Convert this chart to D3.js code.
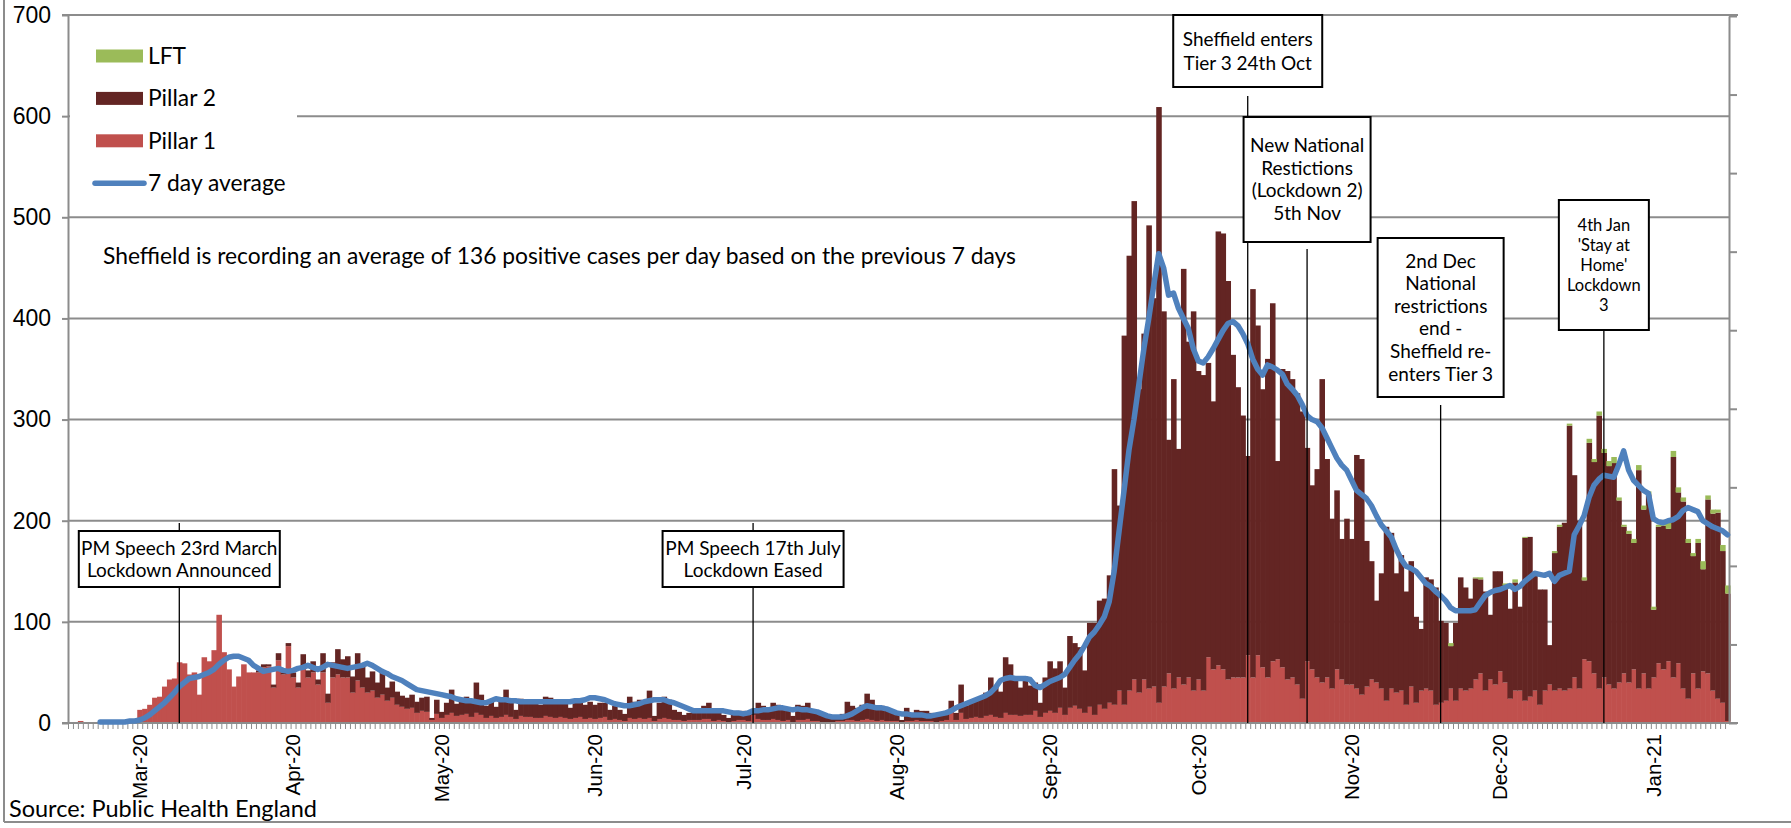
<!DOCTYPE html>
<html lang="en">
<head>
<meta charset="UTF-8">
<title>Sheffield daily positive cases</title>
<script src="https://cdnjs.cloudflare.com/ajax/libs/d3/7.8.5/d3.min.js"></script>
<style>
    body { margin: 0; background: #fff; }
    svg { display: block; font-family: Lato, "Noto Sans", sans-serif; }
    .grid line { stroke: #8c8c8c; stroke-width: 2; }
    .axis path, .axis line { stroke: #8c8c8c; stroke-width: 2; }
    .axis text { fill: #000; }
    .day-tick { stroke: #8c8c8c; stroke-width: 1; }
    .note-line { stroke: #000; stroke-width: 1.3; }
    .note-box { fill: #fff; stroke: #000; stroke-width: 2; }
</style>
</head>
<body>
<svg id="chart" width="1791" height="828"></svg>
<script>
// daily series start on this date, one value per day
const startDate = "2020-02-16";

// top of each day's stacked bar (Pillar 1 + Pillar 2 + LFT)
const dailyTotal = [
    // Feb 16-29
    0,1,2,0,0,1,0,0,1,2,1,0,1,2,
    // Mar
    13,14,18,25,26,36,43,44,60,59,48,50,28,65,61,72,107,70,53,36,46,58,50,50,52,58,58,38,69,50,79,
    // Apr
    50,40,68,52,61,43,69,29,60,73,63,66,46,69,56,45,51,40,51,35,41,31,27,25,28,21,25,26,5,23,
    // May
    11,20,33,19,23,26,20,40,28,17,21,16,23,33,20,13,24,20,23,20,18,26,25,20,23,22,15,20,24,18,21,
    // Jun
    18,20,20,13,17,13,9,26,21,23,19,32,7,20,26,23,13,11,8,10,12,14,17,20,10,12,8,5,10,12,
    // Jul
    12,8,14,20,17,13,20,18,13,15,7,18,17,20,13,10,8,5,6,7,9,21,17,15,18,29,23,15,17,15,12,
    // Aug
    10,3,15,10,13,12,12,10,8,10,12,22,10,38,17,21,23,26,30,45,36,31,65,58,43,35,46,37,40,20,45,
    // Sep
    61,54,61,35,86,79,75,52,99,99,121,123,146,251,215,383,462,516,330,385,492,420,609,407,280,340,271,449,377,407,
    // Oct
    348,344,356,318,486,484,437,364,332,304,264,429,393,330,360,415,259,350,348,340,326,308,272,235,251,340,261,202,230,182,202,
    // Nov
    182,265,261,180,160,121,148,194,188,148,166,130,160,105,93,144,142,134,101,99,79,99,144,134,123,144,144,130,107,150,
    // Dec
    150,138,113,142,115,184,184,146,132,132,77,170,196,198,296,245,200,144,281,261,308,271,259,263,223,196,190,182,255,215,229,
    // Jan 1-16
    115,196,198,200,269,233,223,182,168,182,160,225,211,211,176,136
];

const pillar1 = [
    // Feb 16-29
    0,1,2,0,0,1,0,0,1,2,1,0,1,2,
    // Mar
    13,14,18,25,26,36,43,44,60,59,48,50,28,65,61,72,107,70,53,36,46,58,50,50,50,55,56,35,62,48,76,
    // Apr
    45,35,55,45,50,38,50,20,45,48,45,45,30,42,35,30,32,25,28,22,25,18,16,14,15,10,12,11,3,9,
    // May
    5,8,10,7,8,9,6,10,8,5,7,5,6,8,6,4,7,6,6,5,5,7,6,5,6,5,4,5,6,4,5,
    // Jun
    4,5,6,3,4,3,2,5,4,5,4,5,2,4,5,4,3,3,2,3,3,3,4,4,2,3,2,1,2,3,
    // Jul
    3,2,8,4,3,3,4,3,2,3,1,3,3,4,2,2,1,1,1,2,2,3,3,2,3,4,3,2,3,2,2,
    // Aug
    2,1,2,2,3,2,2,2,1,2,3,12,3,10,4,5,6,5,7,8,6,5,10,8,8,7,8,8,12,6,10,
    // Sep
    12,10,15,8,15,17,14,10,16,8,18,14,20,18,32,18,32,43,30,43,34,36,20,36,49,34,45,38,45,32,
    // Oct
    43,32,65,53,57,53,43,45,45,45,67,45,67,55,45,61,63,55,43,45,38,24,61,53,45,40,45,34,53,43,38,
    // Nov
    38,34,28,36,43,40,34,22,34,30,32,18,36,20,32,34,32,18,20,22,34,22,34,32,34,43,49,32,43,38,
    // Dec
    51,40,24,32,32,22,26,32,18,32,38,32,34,32,34,45,34,63,61,49,34,45,38,34,40,49,40,53,34,49,34,
    // Jan 1-16
    45,59,53,61,45,59,34,24,49,34,51,49,32,24,20,2
];

// lateral flow results only appear from late November
const lftStart = "2020-11-21";
const lft = [
    3,0,0,0,0,1,2,0,0,0, 0,2,0,3,0,1,0,0,0,0,
    0,2,2,0,2,0,0,3,4,3, 4,4,5,6,3,2,3,4,5,4,
    3,3,2,3,8,6,5,4,4,3, 4,8,4,4,3,6,8
];

// 7 day average, first value on the 7th day
const avgStart = "2020-02-22";
const avg7 = [
    1,1,1,1,1,1,2,
    2,3,5,8,12,16,20,25,30,36,40,44,45,46,48,50,53,58,62,65,66,66,64,62,57,54,51,52,53,54,52,51,
    52,54,55,57,55,53,55,58,57,56,55,54,55,56,57,59,57,54,51,49,46,44,42,39,36,33,32,31,30,29,
    28,27,26,24,23,22,22,21,20,20,22,24,23,23,22,22,21,21,21,21,21,21,21,21,21,21,21,22,22,23,25,
    25,24,23,21,19,18,17,17,18,19,21,22,23,23,23,21,20,18,16,14,12,12,12,12,12,12,12,11,10,10,
    9,10,12,12,13,13,14,15,15,14,13,14,13,13,12,11,9,7,6,6,6,7,9,12,15,17,16,15,15,14,12,
    10,9,9,8,8,8,7,7,8,9,10,12,15,17,19,21,23,25,27,30,35,42,44,45,44,44,44,43,37,35,38,
    41,43,45,48,55,62,68,76,85,90,97,105,120,150,190,230,270,300,335,370,400,433,464,450,423,425,410,400,390,370,
    358,356,362,370,379,388,395,397,393,385,375,360,350,344,354,352,349,345,335,330,324,315,304,300,298,292,282,272,262,255,250,
    240,230,226,222,215,205,196,190,184,172,162,155,153,150,144,138,135,130,126,121,114,111,111,111,111,112,119,126,129,131,
    132,134,136,132,135,140,144,148,147,146,148,140,146,148,150,186,195,205,223,235,241,245,244,243,255,269,250,240,235,230,227,
    202,199,198,200,201,204,210,213,211,209,200,197,194,192,190,186
];

const yTicks = [0, 100, 200, 300, 400, 500, 600, 700];

const legendItems = [
    { label: "LFT", key: "lft" },
    { label: "Pillar 2", key: "pillar2" },
    { label: "Pillar 1", key: "pillar1" },
    { label: "7 day average", key: "avg" }
];

const annotations = [
    { date: "2020-03-09", text: ["PM Speech 23rd March", "Lockdown Announced"] },
    { date: "2020-07-03", text: ["PM Speech 17th July", "Lockdown Eased"] },
    { date: "2020-10-11", text: ["Sheffield enters", "Tier 3 24th Oct"] },
    { date: "2020-10-23", text: ["New National", "Restictions", "(Lockdown 2)", "5th Nov"] },
    { date: "2020-11-19", text: ["2nd Dec", "National", "restrictions", "end -", "Sheffield re-", "enters Tier 3"] },
    { date: "2020-12-22", text: ["4th Jan", "'Stay at", "Home'", "Lockdown", "3"] }
];

const noteText = "Sheffield is recording an average of 136 positive cases per day based on the previous 7 days";
const sourceText = "Source: Public Health England";

// box layout for each annotation (pixels)
const annotationLayout = [
    { w: 201, top: 531, h: 56, lineTop: 523, size: 19, gap: 22 },
    { w: 181, top: 531, h: 56, lineTop: 523, size: 19, gap: 22 },
    { w: 149, top: 15, h: 72, lineTop: 96, size: 19, gap: 24 },
    { w: 127, top: 117, h: 125, lineTop: 249, size: 19, gap: 22.5 },
    { w: 126, top: 238, h: 159, lineTop: 405, size: 19, gap: 22.6 },
    { w: 90, top: 200, h: 130, lineTop: 330, size: 16.5, gap: 20 }
];

const colors = {
    pillar1: "#C0504D",
    pillar2: "#632523",
    lft: "#9BBB59",
    avg: "#4F81BD"
};

const parse = d3.timeParse("%Y-%m-%d");
const fmt = d3.timeFormat("%Y-%m-%d");
const start = parse(startDate);
const keyOf = i => fmt(d3.timeDay.offset(start, i));

const lftOffset = d3.timeDay.count(start, parse(lftStart));
const avgOffset = d3.timeDay.count(start, parse(avgStart));

// table for d3.stack
const rows = dailyTotal.map((t, i) => {
    const l = i >= lftOffset ? lft[i - lftOffset] : 0;
    return { key: keyOf(i), pillar1: pillar1[i], pillar2: t - pillar1[i] - l, lft: l };
});

const svg = d3.select("#chart");
const plotLeft = 68, plotRight = 1730, plotTop = 15, plotBottom = 723;

const x = d3.scaleBand()
    .domain(rows.map(d => d.key))
    .range([plotLeft, plotRight])
    .padding(0);

const y = d3.scaleLinear().domain([0, 700]).range([plotBottom, plotTop]);

// outer frame
svg.append("line").attr("x1", 4).attr("x2", 4).attr("y1", 0).attr("y2", 822)
    .attr("stroke", "#8c8c8c").attr("stroke-width", 2);
svg.append("line").attr("x1", 4).attr("x2", 1791).attr("y1", 822).attr("y2", 822)
    .attr("stroke", "#8c8c8c").attr("stroke-width", 2);

// horizontal gridlines
svg.append("g").attr("class", "grid")
    .selectAll("line")
    .data(yTicks.filter(v => v > 0))
    .join("line")
    .attr("x1", v => v === 700 ? plotLeft - 6 : plotLeft)
    .attr("x2", v => v === 700 ? plotRight + 8 : plotRight)
    .attr("y1", v => y(v))
    .attr("y2", v => y(v));

// stacked bars
const stack = d3.stack().keys(["pillar1", "pillar2", "lft"]);
const series = stack(rows);

svg.append("g")
    .selectAll("g")
    .data(series)
    .join("g")
    .attr("fill", s => colors[s.key])
    .selectAll("rect")
    .data(s => s.filter(d => d[1] > d[0]))
    .join("rect")
    .attr("x", d => x(d.data.key))
    .attr("width", x.bandwidth() + 0.6)
    .attr("y", d => y(d[1]))
    .attr("height", d => y(d[0]) - y(d[1]));

// left axis
const yAxis = svg.append("g")
    .attr("class", "axis")
    .attr("transform", `translate(${plotLeft},0)`)
    .call(d3.axisLeft(y).tickValues(yTicks).tickSize(6).tickSizeOuter(0).tickPadding(11));
yAxis.selectAll("text").style("font-size", "23px");

// right axis, unlabeled
const yRight = d3.scaleLinear().domain([0, 9]).range([plotBottom, plotTop + 1]);
svg.append("g")
    .attr("class", "axis")
    .attr("transform", `translate(${plotRight - 1},0)`)
    .call(d3.axisRight(yRight).ticks(9).tickSize(8).tickSizeOuter(0).tickFormat(""));

// x axis line
svg.append("line")
    .attr("x1", plotLeft - 6).attr("x2", plotRight + 8)
    .attr("y1", plotBottom).attr("y2", plotBottom)
    .attr("stroke", "#8c8c8c").attr("stroke-width", 2);

// one tick between every day
svg.append("g")
    .selectAll("line")
    .data(rows)
    .join("line")
    .attr("class", "day-tick")
    .attr("x1", d => x(d.key) + 0.5)
    .attr("x2", d => x(d.key) + 0.5)
    .attr("y1", plotBottom)
    .attr("y2", plotBottom + 6);

// month labels
const monthKeys = rows.map(d => d.key).filter(k => k.endsWith("-01"));
const xAxis = svg.append("g")
    .attr("transform", `translate(0,${plotBottom})`)
    .call(d3.axisBottom(x).tickValues(monthKeys).tickSize(0)
        .tickFormat(k => d3.timeFormat("%b-%y")(parse(k))));
xAxis.select(".domain").remove();
xAxis.selectAll("text")
    .attr("transform", "rotate(-90)")
    .attr("x", -11)
    .attr("y", 0)
    .attr("dy", "0.36em")
    .style("text-anchor", "end")
    .style("font-size", "20.5px")
    .style("fill", "#000");

// 7 day average
const avgLine = d3.line()
    .x((v, i) => x(keyOf(i + avgOffset)) + x.bandwidth() / 2)
    .y(v => y(v));

svg.append("path")
    .datum(avg7)
    .attr("d", avgLine)
    .attr("fill", "none")
    .attr("stroke", colors.avg)
    .attr("stroke-width", 5.5)
    .attr("stroke-linejoin", "round")
    .attr("stroke-linecap", "round");

// event markers
const notes = svg.append("g");
annotations.forEach((a, i) => {
    const lay = annotationLayout[i];
    const cx = x(a.date) + x.bandwidth() / 2;
    notes.append("line")
        .attr("class", "note-line")
        .attr("x1", cx).attr("x2", cx)
        .attr("y1", lay.lineTop).attr("y2", plotBottom);
});
annotations.forEach((a, i) => {
    const lay = annotationLayout[i];
    const cx = x(a.date) + x.bandwidth() / 2;
    notes.append("rect")
        .attr("class", "note-box")
        .attr("x", cx - lay.w / 2).attr("y", lay.top)
        .attr("width", lay.w).attr("height", lay.h);
    const mid = lay.top + lay.h / 2;
    const first = mid - (a.text.length - 1) * lay.gap / 2;
    notes.append("text")
        .attr("text-anchor", "middle")
        .style("font-size", lay.size + "px")
        .selectAll("tspan")
        .data(a.text)
        .join("tspan")
        .attr("x", cx)
        .attr("y", (t, j) => first + j * lay.gap)
        .attr("dy", "0.35em")
        .text(t => t);
});

// legend
const legend = svg.append("g");
legend.append("rect")
    .attr("x", plotLeft + 2).attr("y", 30)
    .attr("width", 297 - plotLeft - 2).attr("height", 172)
    .attr("fill", "#fff");
const legendRow = legend.selectAll("g")
    .data(legendItems)
    .join("g")
    .attr("transform", (d, i) => `translate(96,${56 + i * 42.4})`);
legendRow.filter(d => d.key !== "avg")
    .append("rect")
    .attr("x", 0).attr("y", -6.5)
    .attr("width", 47).attr("height", 13)
    .attr("fill", d => colors[d.key]);
legendRow.filter(d => d.key === "avg")
    .append("line")
    .attr("x1", -1).attr("x2", 48)
    .attr("stroke", colors.avg)
    .attr("stroke-width", 5.5)
    .attr("stroke-linecap", "round");
legendRow.append("text")
    .attr("x", 52)
    .attr("dy", "0.35em")
    .style("font-size", "22.8px")
    .text(d => d.label);

// summary text and source
svg.append("text")
    .attr("x", 103).attr("y", 264)
    .style("font-size", "22.8px")
    .text(noteText);

svg.append("text")
    .attr("x", 9).attr("y", 817)
    .style("font-size", "23.5px")
    .text(sourceText);
</script>
</body>
</html>
